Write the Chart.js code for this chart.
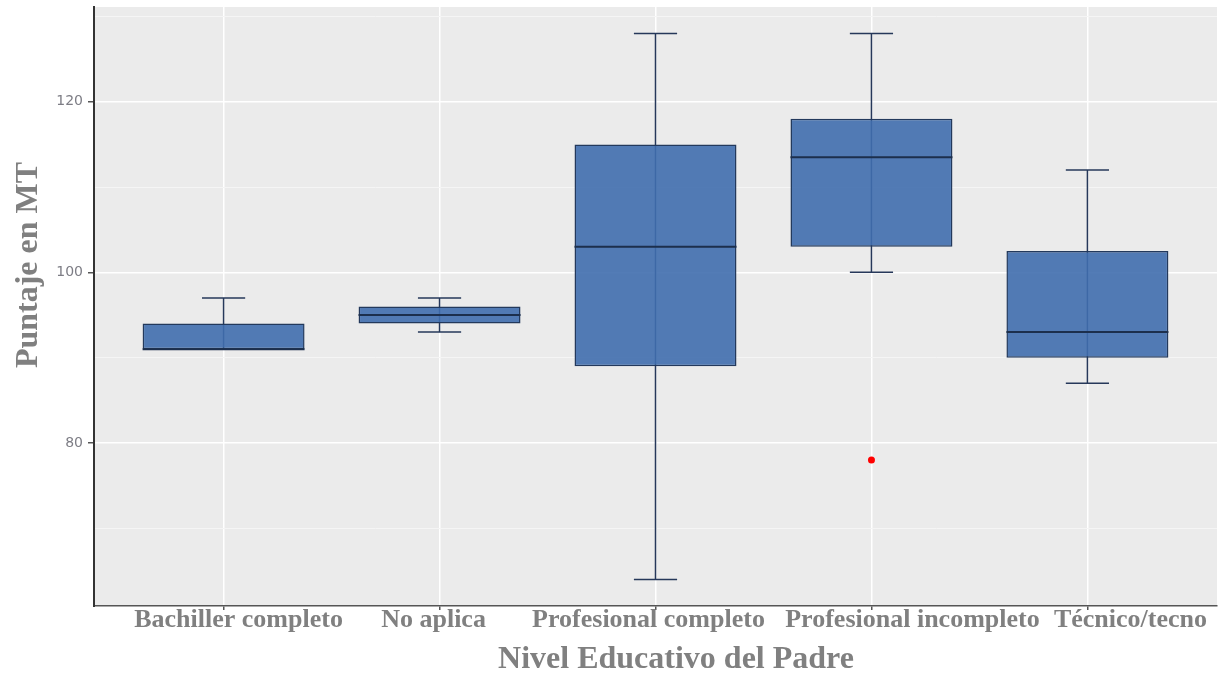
<!DOCTYPE html>
<html>
<head>
<meta charset="utf-8">
<script src="https://cdn.jsdelivr.net/npm/chart.js@4"></script>
<style>
  html, body { margin:0; padding:0; background:#fff; }
  #wrap { width:1221px; height:675px; position:relative; }
</style>
</head>
<body>
<div id="wrap"><canvas id="c" width="1221" height="675"></canvas></div>
<script>
const categories  = ["Bachiller completo", "No aplica", "Profesional completo", "Profesional incompleto", "Técnico/tecno"];
const whiskerLow  = [91, 93, 64, 100, 87];
const q1          = [91, 94, 89, 103, 90];
const median      = [91, 95, 103, 113.5, 93];
const q3          = [94, 96, 115, 118, 102.5];
const whiskerHigh = [97, 97, 128, 128, 112];
const outliers    = [{ x:4, y:78 }];
const yTicks      = [70, 80, 90, 100, 110, 120, 130];
const yLabelled   = [80, 100, 120];
const xTitle      = "Nivel Educativo del Padre";
const yTitle      = "Puntaje en MT";

// the category labels in the original sit a little off their ticks
const labelNudge  = [15, -6, -7, 41, 43];

const serif = "'Liberation Serif', 'DejaVu Serif', serif";
const sans  = "'DejaVu Sans', 'Liberation Sans', sans-serif";

const boxPlugin = {
  id:"boxplot",
  beforeDraw(chart) {
    const { ctx, chartArea:a } = chart;
    ctx.save();
    ctx.fillStyle = "#ebebeb";
    ctx.fillRect(a.left, a.top, a.right - a.left, a.bottom - a.top);
    ctx.restore();
  },
  // whiskers + caps go under the (semi transparent) boxes
  beforeDatasetsDraw(chart) {
    const { ctx, scales:{ x, y } } = chart;
    ctx.save();
    ctx.strokeStyle = "#26385a";
    ctx.lineWidth = 1.5;
    categories.forEach((c, i) => {
      const cx = x.getPixelForValue(i + 1);
      ctx.beginPath();
      ctx.moveTo(cx, y.getPixelForValue(whiskerLow[i]));
      ctx.lineTo(cx, y.getPixelForValue(whiskerHigh[i]));
      ctx.stroke();
      const l = x.getPixelForValue(i + 0.9), r = x.getPixelForValue(i + 1.1);
      [whiskerLow[i], whiskerHigh[i]].forEach(v => {
        if (v === q1[i] || v === q3[i]) return;
        const py = y.getPixelForValue(v);
        ctx.beginPath(); ctx.moveTo(l, py); ctx.lineTo(r, py); ctx.stroke();
      });
    });
    ctx.restore();
  },
  afterDatasetsDraw(chart) {
    const { ctx, scales:{ x, y } } = chart;
    ctx.save();
    ctx.strokeStyle = "#1c2f4d";
    ctx.lineWidth = 2;
    categories.forEach((c, i) => {
      const py = y.getPixelForValue(median[i]);
      ctx.beginPath();
      ctx.moveTo(x.getPixelForValue(i + 0.625), py);
      ctx.lineTo(x.getPixelForValue(i + 1.375), py);
      ctx.stroke();
    });
    ctx.restore();
  },
  afterDraw(chart) {
    const { ctx, scales:{ x } } = chart;
    ctx.save();
    ctx.fillStyle = "#808080";
    ctx.textAlign = "center";
    ctx.textBaseline = "middle";
    ctx.font = "bold 26px " + serif;
    categories.forEach((c, i) => ctx.fillText(c, x.getPixelForValue(i + 1) + labelNudge[i], x.top + 14));
    ctx.font = "bold 32px " + serif;
    ctx.fillText(xTitle, 676, 660);
    ctx.translate(29, 265);
    ctx.rotate(-Math.PI / 2);
    ctx.fillText(yTitle, 0, 0);
    ctx.restore();
  }
};

new Chart(document.getElementById("c"), {
  type:"bar",
  data:{
    datasets:[
      {
        type:"bar",
        data:categories.map((c, i) => ({ x:i + 1, y:[q1[i], q3[i]] })),
        backgroundColor:"rgba(64,110,174,0.9)",
        borderColor:"#23395c",
        borderWidth:1.5,
        borderSkipped:false,
        barPercentage:0.75,
        categoryPercentage:1,
      },
      {
        type:"scatter",
        data:outliers,
        pointRadius:3.5,
        pointBackgroundColor:"#ff0000",
        pointBorderWidth:0,
      }
    ]
  },
  options:{
    responsive:false, animation:false,
    layout:{ padding:{ left:0, top:7, right:4, bottom:0 } },
    plugins:{ legend:{ display:false }, tooltip:{ enabled:false } },
    scales:{
      x:{
        type:"linear", min:0.4, max:5.6, offset:false,
        afterBuildTicks:s => { s.ticks = categories.map((c, i) => ({ value:i + 1 })); },
        afterFit:s => { s.height = 69; s.paddingLeft = 0; s.paddingRight = 0; },
        ticks:{ display:false },
        grid:{ offset:false, color:"#ffffff", lineWidth:1.5, tickLength:4, tickColor:"#555" },
        border:{ color:"#555", width:1.5 },
      },
      y:{
        min:60.9, max:131.1,
        afterBuildTicks:s => { s.ticks = yTicks.map(v => ({ value:v })); },
        afterFit:s => { s.width = 94; s.paddingTop = 0; s.paddingBottom = 0; },
        ticks:{ callback:v => yLabelled.includes(v) ? String(v) : "", font:{ family:sans, size:14 }, color:"#7d7d85", padding:5 },
        grid:{
          color:ctx => yLabelled.includes(ctx.tick && ctx.tick.value) ? "#ffffff" : "#f5f5f5",
          lineWidth:ctx => yLabelled.includes(ctx.tick && ctx.tick.value) ? 1.5 : 1,
          tickColor:ctx => yLabelled.includes(ctx.tick && ctx.tick.value) ? "#555" : "rgba(0,0,0,0)",
          tickLength:6,
        },
        border:{ color:"#333", width:2 },
      }
    }
  },
  plugins:[boxPlugin]
});
</script>
</body>
</html>
